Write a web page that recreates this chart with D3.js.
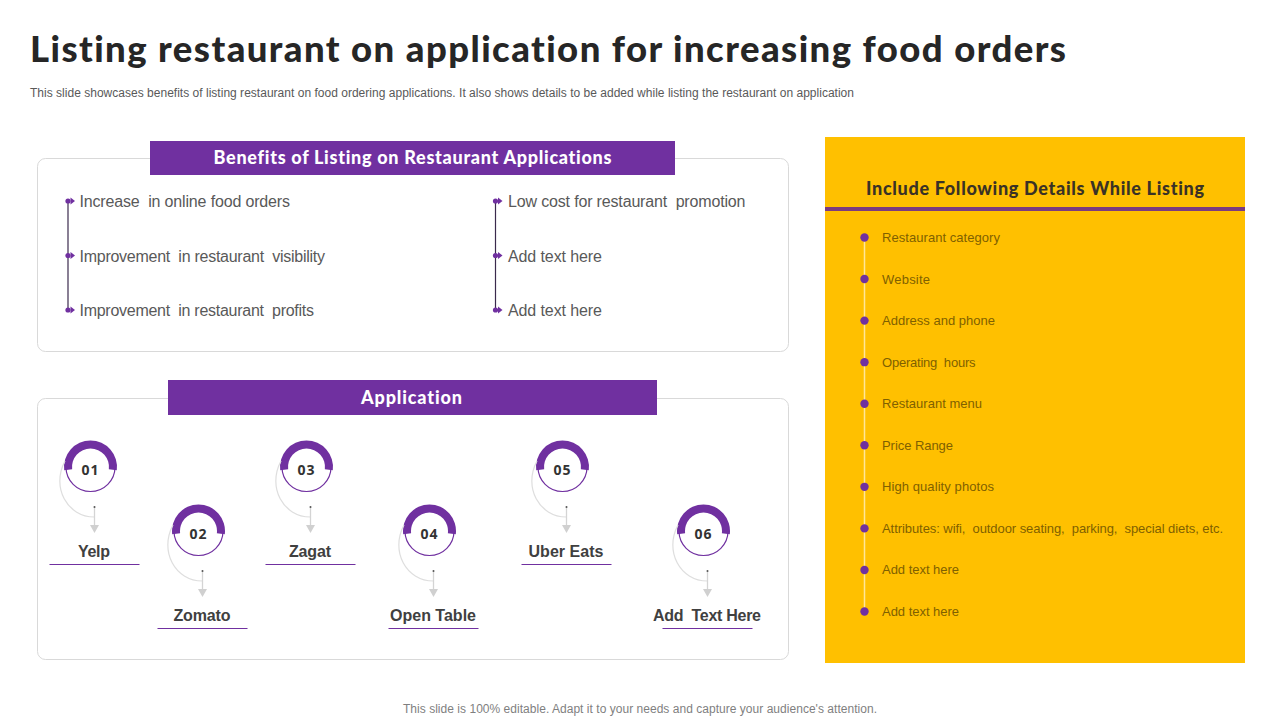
<!DOCTYPE html>
<html><head><meta charset="utf-8">
<script src="https://cdn.jsdelivr.net/npm/d3@7"></script>
<style>html,body{margin:0;padding:0;background:#fff}svg{display:block}text{font-variant-ligatures:none;font-feature-settings:"liga" 0}</style>
</head><body><svg id="c" width="1280" height="720"></svg>
<script>
const titleText = "Listing restaurant on application for increasing food orders";
const subtitleText = "This slide showcases benefits of listing restaurant on food ordering applications. It also shows details to be added while listing the restaurant on application";
const footerText = "This slide is 100% editable. Adapt it to your needs and capture your audience's attention.";
const benefitsTitle = "Benefits of Listing on Restaurant Applications";
const benefitsLeft = ["Increase  in online food orders","Improvement  in restaurant  visibility","Improvement  in restaurant  profits"];
const benefitsRight = ["Low cost for restaurant  promotion","Add text here","Add text here"];
const appTitle = "Application";
const appNumbers = ["01","02","03","04","05","06"];
const appNames = ["Yelp","Zomato","Zagat","Open Table","Uber Eats","Add  Text Here"];
const appCentres = [90,198,306,429,562,703];
const detailsTitle = "Include Following Details While Listing";
const details = ["Restaurant category","Website","Address and phone","Operating  hours","Restaurant menu","Price Range","High quality photos","Attributes: wifi,  outdoor seating,  parking,  special diets, etc.","Add text here","Add text here"];
// measured text widths
const benefitsLeftWidths = [210.5,245.5,234.5];
const benefitsRightWidths = [237.5,94,94];
const appNameWidths = [32,57,42,86,75,108];
const detailWidths = [118,48,113,93.5,100,71,112,341,77,77];

const PURPLE="#7030A0", YEL="#FFC000", DARK="#404040", HEAD="Lato, 'Open Sans', sans-serif", BODY="'Liberation Sans', Arial, sans-serif";
const svg=d3.select("#c");
const txt=(x,y,s,o={})=>svg.append("text").attr("x",x).attr("y",y).text(s)
  .attr("font-family",o.f||BODY).attr("font-size",o.s||14).attr("font-weight",o.w||400)
  .attr("fill",o.c||DARK).attr("text-anchor",o.a||"start").style("white-space","pre")
  .call(t=>{if(o.len)t.attr("textLength",o.len).attr("lengthAdjust","spacing")});

txt(30,62,titleText,{f:HEAD,s:36.5,w:900,c:"#262626",len:1036});
txt(30,97,subtitleText,{s:12,c:"#595959",len:824});
txt(640,713,footerText,{s:12,c:"#7f7f7f",a:"middle",len:474});

const panel=(x,y,w,h)=>svg.append("rect").attr("x",x).attr("y",y).attr("width",w).attr("height",h).attr("rx",8)
  .attr("fill","#fff").attr("stroke","#d9d9d9").attr("stroke-width",1);
panel(37.5,158.5,751,193);
panel(37.5,398.5,751,261);
const banner=(x,y,w,h,s,len,dx)=>{
  svg.append("rect").attr("x",x).attr("y",y).attr("width",w).attr("height",h).attr("fill",PURPLE);
  txt(x+w/2+dx,y+h/2+6,s,{f:HEAD,s:18,w:900,c:"#fff",a:"middle",len});
};
banner(150,141,525,34,benefitsTitle,398,0);
banner(168,380,489,35,appTitle,101,-1);

const yBen=d3.scalePoint().domain([0,1,2]).range([201,310]);
[[benefitsLeft,benefitsLeftWidths,68,79.5],[benefitsRight,benefitsRightWidths,495.5,508]].forEach(([items,widths,lx,tx])=>{
  svg.append("line").attr("x1",lx).attr("x2",lx).attr("y1",yBen(0)).attr("y2",yBen(2)).attr("stroke","#3b2a4d").attr("stroke-width",1.2);
  items.forEach((s,i)=>{
    const y=yBen(i);
    svg.append("circle").attr("cx",lx).attr("cy",y).attr("r",2.6).attr("fill",PURPLE);
    svg.append("path").attr("d",d3.line()([[lx+2.5,y-3.5],[lx+7,y],[lx+2.5,y+3.5]])+"Z").attr("fill",PURPLE);
    txt(tx,y+6,s,{s:16,c:"#595959",len:widths[i]});
  });
});

const arcThick=d3.arc().innerRadius(18.5).outerRadius(26.5).startAngle(-Math.PI*0.54).endAngle(Math.PI*0.54);
appNumbers.forEach((n,i)=>{
  const cx=appCentres[i], cy=i%2?531:467, lx=cx+4.5;
  const g=svg.append("g").attr("transform",`translate(${cx+0.5},${cy})`);
  svg.append("path").attr("d",`M${cx-25},${cy-6} C${cx-39},${cy+20} ${cx-23},${cy+50} ${lx},${cy+50}`)
    .attr("fill","none").attr("stroke","#dedede").attr("stroke-width",1.2);
  g.append("circle").attr("r",24.5).attr("fill","#fff").attr("stroke",PURPLE).attr("stroke-width",1.2);
  g.append("path").attr("d",arcThick).attr("fill",PURPLE);
  txt(cx,cy+8,n,{f:"'Open Sans',sans-serif",s:14,w:700,c:"#333",a:"middle",len:17});
  svg.append("line").attr("x1",lx).attr("x2",lx).attr("y1",cy+40).attr("y2",cy+62).attr("stroke","#d4d4d4").attr("stroke-width",1.3);
  svg.append("circle").attr("cx",lx).attr("cy",cy+40).attr("r",1).attr("fill","#555");
  svg.append("path").attr("d",d3.line()([[lx-4.5,cy+58],[lx+4.5,cy+58],[lx,cy+66]])+"Z").attr("fill","#d0d0d0");
  txt(lx-0.5,cy+90,appNames[i],{s:16,w:700,c:"#404040",a:"middle",len:appNameWidths[i]});
  svg.append("line").attr("x1",lx-45).attr("x2",lx+45).attr("y1",cy+97.5).attr("y2",cy+97.5).attr("stroke",PURPLE).attr("stroke-width",1.2);
});

svg.append("rect").attr("x",825).attr("y",137).attr("width",420).attr("height",526).attr("fill",YEL);
txt(1035,195,detailsTitle,{f:HEAD,s:18,w:900,c:"#3a3226",a:"middle",len:338});
svg.append("rect").attr("x",825).attr("y",207).attr("width",420).attr("height",4).attr("fill","#7b3b80");
const yDet=d3.scalePoint().domain(d3.range(details.length)).range([237.5,611.5]);
svg.append("line").attr("x1",864.5).attr("x2",864.5).attr("y1",yDet(0)).attr("y2",yDet(details.length-1)).attr("stroke","#FFE699").attr("stroke-width",1.5);
details.forEach((s,i)=>{
  svg.append("circle").attr("cx",864.5).attr("cy",yDet(i)).attr("r",4.2).attr("fill",PURPLE);
  txt(882,yDet(i)+4.5,s,{s:13,c:"#7f6000",len:detailWidths[i]});
});
</script></body></html>
